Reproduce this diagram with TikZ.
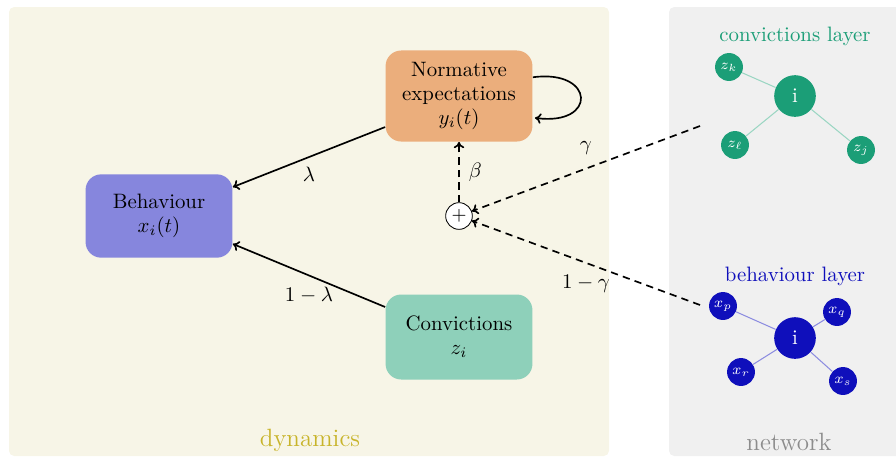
\documentclass[tikz,border=0pt]{standalone}
\usetikzlibrary{arrows.meta}
\definecolor{dynbg}{HTML}{F7F5E7}
\definecolor{netbg}{HTML}{F0F0F0}
\definecolor{normc}{HTML}{EBAE7C}
\definecolor{behc}{HTML}{8686DD}
\definecolor{convc}{HTML}{8ED0BA}
\definecolor{dynlab}{HTML}{C8B42A}
\definecolor{teal}{HTML}{1B9E77}
\definecolor{lteal}{HTML}{9AD6C2}
\definecolor{dblue}{HTML}{0F0FBB}
\definecolor{lblue}{HTML}{8C8CE0}
\definecolor{netlab}{HTML}{8C8C8C}
\tikzset{
  panel/.style={rounded corners=2.5pt},
  statebox/.style={rounded corners=7.5pt, align=center, minimum width=70.5pt, inner sep=0pt,
     font=\fontsize{10}{11.5}\selectfont},
  flow/.style={thick, -{To[length=3pt,width=5pt]}},
  dflow/.style={thick, dash pattern=on 3.5pt off 2.5pt, -{To[length=3pt,width=5pt]}},
  bignode/.style={circle, inner sep=0pt, minimum size=20pt, text=white},
  smallnode/.style={circle, inner sep=0pt, minimum size=13.4pt, text=white, font=\scriptsize},
  tedge/.style={lteal, line width=0.5pt},
  bedge/.style={lblue, line width=0.5pt},
}
\begin{document}
\begin{tikzpicture}[x=0.48pt, y=-0.48pt]
\useasboundingbox (0,0) rectangle (896,458);
% panels
\fill[dynbg, panel] (9,7) rectangle (609,456);
\fill[netbg, panel] (669,7) rectangle (905,456);
\node[text=dynlab, font=\large] (dynlabel) at (310,440) {dynamics};
\node[text=netlab, font=\large] (netlabel) at (789,442) {network};

% state boxes
\node[statebox, fill=normc, minimum height=43.7pt] (nexp) at (459,96) {Normative\\expectations\\$y_i(t)$};
\node[statebox, fill=behc, minimum height=40pt] (beh) at (159,216) {Behaviour\\$x_i(t)$};
\node[statebox, fill=convc, minimum height=40.8pt] (conv) at (459,337) {Convictions\\$z_i$};
\node[circle, draw, fill=white, inner sep=0pt, minimum size=12.8pt, font=\small] (plus) at (459,216) {$+$};

% solid arrows
\draw[flow] ([yshift=-14.9pt]nexp.west) -- node[below, pos=0.5, yshift=-1pt] {$\lambda$} ([yshift=13.9pt]beh.east);
\draw[flow] ([yshift=14.4pt]conv.west) -- node[below, pos=0.5, yshift=-2pt] {$1-\lambda$} ([yshift=-13.4pt]beh.east);
\draw[flow] ([yshift=9pt]nexp.east) .. controls +(30pt,4pt) and +(30pt,-4pt) .. ([xshift=1pt,yshift=-10.5pt]nexp.east);

% dashed arrows
\draw[dflow] (plus) -- node[right, xshift=1pt] {$\beta$} (nexp);
\coordinate (gstart) at (700,126);
\coordinate (bstart) at (700,305);
\draw[dflow] (gstart) -- node[above, pos=0.5, yshift=3pt] {$\gamma$} (plus);
\draw[dflow] (bstart) -- node[below, pos=0.5, yshift=-2pt] {$1-\gamma$} (plus);

% convictions layer
\node[text=teal] (clabel) at (795,36) {convictions layer};
\node[bignode, fill=teal] (ci) at (795,96) {i};
\node[smallnode, fill=teal] (zk) at (729,67) {$z_k$};
\node[smallnode, fill=teal] (zl) at (735,145) {$z_\ell$};
\node[smallnode, fill=teal] (zj) at (861,150) {$z_j$};
\begin{scope}[on background layer/.style={}]
\end{scope}
\draw[tedge] (ci) -- (zk);
\draw[tedge] (ci) -- (zl);
\draw[tedge] (ci) -- (zj);

% behaviour layer
\node[text=dblue] (blabel) at (795,276) {behaviour layer};
\node[bignode, fill=dblue] (bi) at (795,338) {i};
\node[smallnode, fill=dblue] (xp) at (723,306) {$x_p$};
\node[smallnode, fill=dblue] (xq) at (837,312) {$x_q$};
\node[smallnode, fill=dblue] (xr) at (741,372) {$x_r$};
\node[smallnode, fill=dblue] (xs) at (843,381) {$x_s$};
\draw[bedge] (bi) -- (xp);
\draw[bedge] (bi) -- (xq);
\draw[bedge] (bi) -- (xr);
\draw[bedge] (bi) -- (xs);
\end{tikzpicture}
\end{document}
